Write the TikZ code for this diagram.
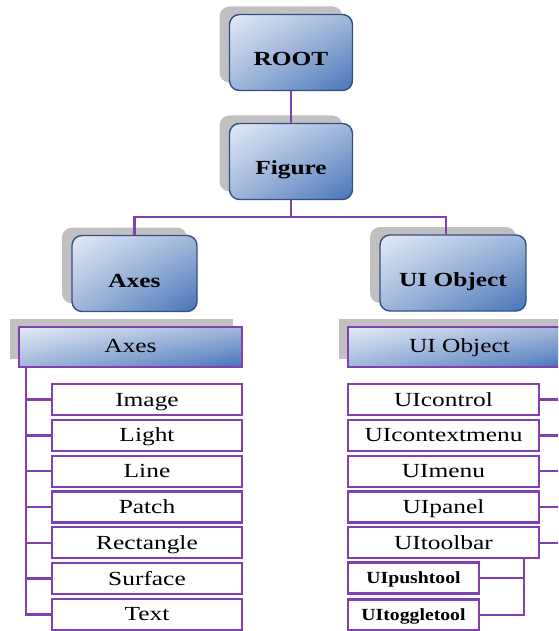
\documentclass[tikz,border=0pt]{standalone}
\usepackage{fontspec}
\newfontfamily\lblfont[FakeStretch=1.27]{Liberation Serif}
\newfontfamily\subfont[FakeStretch=1.16]{Liberation Serif}
\usetikzlibrary{shadows,shadings,calc}

\definecolor{tree}{RGB}{128,64,176}
\definecolor{edgeblue}{RGB}{52,80,135}
\definecolor{lite}{RGB}{226,234,245}
\definecolor{deep}{RGB}{72,116,184}
\definecolor{midb}{RGB}{160,183,218}
\definecolor{shadowgray}{RGB}{192,192,192}

\tikzset{
  gradfill/.style={upper left=lite, lower right=deep, upper right=midb, lower left=midb},
  bigbox/.style={rectangle, rounded corners=10pt, draw=edgeblue, line width=1.4pt,
    gradfill, minimum width=123pt, minimum height=76pt, inner sep=0pt,
    text height=27pt, text depth=0pt,
    font=\lblfont\bfseries\fontsize{20}{24}\selectfont,
    drop shadow={shadow xshift=-10pt, shadow yshift=8pt, fill=shadowgray, opacity=1}},
  header/.style={rectangle, draw=tree, line width=1.8pt, gradfill,
    minimum width=223pt, minimum height=40pt, inner sep=0pt,
    text height=10pt, text depth=0pt,
    font=\lblfont\fontsize{20}{24}\selectfont,
    drop shadow={shadow xshift=-9pt, shadow yshift=8pt, fill=shadowgray, opacity=1}},
  leaf/.style={rectangle, draw=tree, line width=2.2pt, fill=white,
    minimum width=190pt, minimum height=31pt, inner sep=0pt,
    text height=13pt, text depth=0pt,
    font=\lblfont\fontsize{20}{24}\selectfont},
  subleaf/.style={leaf, minimum width=131pt,
    font=\subfont\bfseries\fontsize{17}{20}\selectfont, text height=11pt},
  conn/.style={draw=tree, line width=2.4pt},
}

\begin{document}
\begin{tikzpicture}[x=1pt, y=-1pt]
  \path[use as bounding box, clip] (0,0) rectangle (558,631);

  % top of the hierarchy
  \node[bigbox] (root) at (291,52.5) {ROOT};
  \node[bigbox] (fig) at (291,161.5) {Figure};
  \node[bigbox, minimum width=125pt] (axes) at (134.5,273.5) {Axes};
  \node[bigbox, minimum width=146pt] (uiobj) at (453,273) {UI Object};

  \draw[conn] (root.south) -- (fig.north);
  \draw[conn] (fig.south) -- ++(0,17) coordinate (bus);
  \draw[conn] (axes.north) |- (bus) -| ([xshift=-7pt]uiobj.north);

  % class headers
  \node[header] (axhdr) at (130.5,347) {Axes};
  \node[header] (uihdr) at (459.5,347) {UI Object};

  % axes children
  \foreach \n/\t [count=\i from 0] in
      {image/Image, light/Light, line/Line, patch/Patch,
       rect/Rectangle, surf/Surface, text/Text}
    \node[leaf] (\n) at (147,399.5+35.83*\i) {\t};

  \coordinate (ltrunk) at ([xshift=8pt]axhdr.south west);
  \draw[conn] (ltrunk) |- (text.west);
  \foreach \n in {image, light, line, patch, rect, surf}
    \draw[conn] (\n.west) -- (\n.west -| ltrunk);

  % ui object children
  \foreach \n/\t [count=\i from 0] in
      {uicontrol/UIcontrol, uictx/UIcontextmenu, uimenu/UImenu,
       uipanel/UIpanel, uitoolbar/UItoolbar}
    \node[leaf, minimum width=191pt] (\n) at (443.5,399.5+35.83*\i) {\t};

  \coordinate (rtrunk) at ([xshift=-8pt]uihdr.south east);
  \draw[conn] (rtrunk) |- (uitoolbar.east);
  \foreach \n in {uicontrol, uictx, uimenu, uipanel}
    \draw[conn] (\n.east) -- (\n.east -| rtrunk);

  % toolbar tools
  \node[subleaf] (uipush) at (413.5,578) {UIpushtool};
  \node[subleaf] (uitoggle) at (413.5,615) {UItoggletool};

  \coordinate (tbar) at ([xshift=-16pt]uitoolbar.south east);
  \draw[conn] (tbar) |- (uitoggle.east);
  \draw[conn] (uipush.east) -- (uipush.east -| tbar);
\end{tikzpicture}
\end{document}
